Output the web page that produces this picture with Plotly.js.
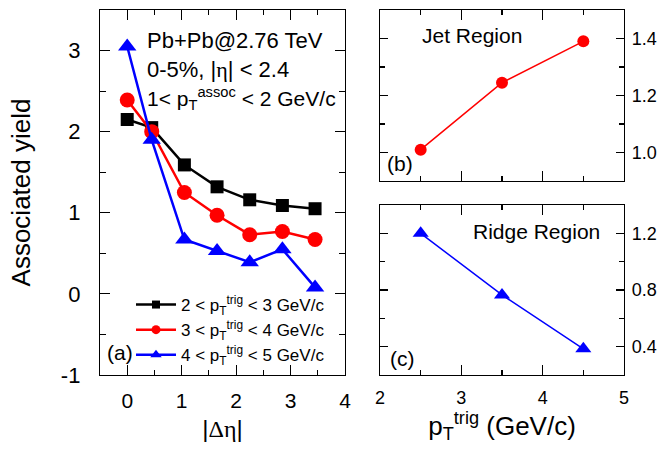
<!DOCTYPE html>
<html>
<head>
<meta charset="utf-8">
<script src="https://cdn.plot.ly/plotly-3.0.1.min.js"></script>
<style>html,body{margin:0;padding:0;background:#fff;}#chart{width:660px;height:451px;}</style>
</head>
<body>
<div id="chart"></div>
<script>
// ---- data ----
const dEta = [0, 0.45, 1.05, 1.65, 2.25, 2.85, 3.45];
const yield2to3 = [2.15, 2.05, 1.59, 1.32, 1.16, 1.09, 1.05];
const yield3to4 = [2.39, 2.00, 1.25, 0.97, 0.73, 0.77, 0.67];
const yield4to5 = [3.05, 1.90, 0.67, 0.53, 0.39, 0.55, 0.08];
const seriesNames = [
  "2 < p<sub>T</sub><sup>trig</sup> < 3 GeV/c",
  "3 < p<sub>T</sub><sup>trig</sup> < 4 GeV/c",
  "4 < p<sub>T</sub><sup>trig</sup> < 5 GeV/c"
];
const yTickVals = [-1, 0, 1, 2, 3];
const yTickText = ['-1', '0', '1', '2', '3'];
const ptTrig = [2.5, 3.5, 4.5];
const jetYield = [1.01, 1.245, 1.39];
const ridgeYield = [1.20, 0.765, 0.385];

// ---- helpers: pixel -> paper (plot area 100..624 x, 10..375 y) ----
const L = 100, R = 624, T = 10, B = 375;
const px = x => (x - L) / (R - L);
const py = y => (B - y) / (B - T);

const FONT = "Liberation Sans, Arial, sans-serif";

const colors = ['#000000', '#ff0000', '#0000ff'];
const symbols = ['square', 'circle', 'triangle-up'];
const sizes = [13, 15, 16];
const legendSizes = [8, 9, 10];
const yields = [yield2to3, yield3to4, yield4to5];

const traces = [];
for (let i = 0; i < 3; i++) {
  traces.push({x: dEta, y: yields[i], name: seriesNames[i], type: 'scatter', mode: 'lines+markers',
    showlegend: false, line: {color: colors[i], width: 2.5},
    marker: {symbol: symbols[i], size: sizes[i], color: colors[i]}, xaxis: 'x', yaxis: 'y'});
}
// legend-only proxies (small legend markers as in the reference)
for (let i = 0; i < 3; i++) {
  traces.push({x: [null], y: [null], name: seriesNames[i], type: 'scatter', mode: 'lines+markers',
    showlegend: true, line: {color: colors[i], width: 2.5},
    marker: {symbol: symbols[i], size: legendSizes[i], color: colors[i]}, xaxis: 'x', yaxis: 'y'});
}
traces.push({x: ptTrig, y: jetYield, name: 'Jet Region', type: 'scatter', mode: 'lines+markers', showlegend: false,
   line: {color: '#ff0000', width: 1.5}, marker: {symbol: 'circle', size: 12, color: '#ff0000'}, xaxis: 'x2', yaxis: 'y2'});
traces.push({x: ptTrig, y: ridgeYield, name: 'Ridge Region', type: 'scatter', mode: 'lines+markers', showlegend: false,
   line: {color: '#0000ff', width: 1.5}, marker: {symbol: 'triangle-up', size: 14, color: '#0000ff'}, xaxis: 'x3', yaxis: 'y3'});

const axBase = {
  showgrid: false, zeroline: false, showline: true, linecolor: '#000', linewidth: 1.2,
  mirror: 'ticks', ticks: 'inside', ticklen: 10, tickwidth: 1.2, tickcolor: '#000',
  fixedrange: true
};

const layout = {
  width: 660, height: 451,
  margin: {l: L, r: 660 - R, t: T, b: 451 - B},
  paper_bgcolor: '#fff', plot_bgcolor: '#fff',
  font: {family: FONT, color: '#000', size: 20},
  showlegend: true,
  legend: {x: px(131), y: py(287), xanchor: 'left', yanchor: 'top',
    bgcolor: 'rgba(0,0,0,0)', borderwidth: 0, font: {size: 17, family: FONT},
    tracegroupgap: 0, itemwidth: 40},
  xaxis: Object.assign({}, axBase, {
    domain: [0, px(345)], anchor: 'y', range: [-0.5, 4], tickmode: 'linear', tick0: 0, dtick: 1,
    minor: {dtick: 0.5, ticks: 'inside', ticklen: 5, tickcolor: '#000'},
    tickfont: {size: 21}, ticklabelstandoff: 7,
    title: {text: '|<span style="font-family:Liberation Serif">Δη</span>|', font: {size: 24}, standoff: 8}
  }),
  yaxis: Object.assign({}, axBase, {
    domain: [0, 1], anchor: 'x', range: [-1, 3.5], tickmode: 'array', tickvals: yTickVals, ticktext: yTickText,
    minor: {dtick: 0.5, ticks: 'inside', ticklen: 6, tickcolor: '#000'},
    tickfont: {size: 22}, ticklabelstandoff: 14,
    title: {text: 'Associated yield', font: {size: 26}, standoff: 22}
  }),
  xaxis2: Object.assign({}, axBase, {
    domain: [px(380), 1], anchor: 'y2', range: [2, 5], tickmode: 'linear', tick0: 2, dtick: 1,
    minor: {dtick: 0.5, ticks: 'inside', ticklen: 5, tickcolor: '#000'},
    showticklabels: false
  }),
  yaxis2: Object.assign({}, axBase, {
    domain: [py(181), 1], anchor: 'x2', side: 'right', range: [0.9, 1.5], tickmode: 'linear',
    tick0: 1.0, dtick: 0.2, tickformat: '.1f', ticklen: 8,
    minor: {dtick: 0.1, ticks: 'inside', ticklen: 5, tickcolor: '#000'},
    tickfont: {size: 18}, ticklabelstandoff: 3
  }),
  xaxis3: Object.assign({}, axBase, {
    domain: [px(380), 1], anchor: 'y3', range: [2, 5], tickmode: 'linear', tick0: 2, dtick: 1,
    minor: {dtick: 0.5, ticks: 'inside', ticklen: 5, tickcolor: '#000'},
    tickfont: {size: 18}, ticklabelstandoff: 6,
    title: {text: 'p<sub>T</sub><sup>trig</sup> (GeV/c)', font: {size: 26}, standoff: 2}
  }),
  yaxis3: Object.assign({}, axBase, {
    domain: [0, py(205)], anchor: 'x3', side: 'right', range: [0.2, 1.4], tickmode: 'linear',
    tick0: 0.4, dtick: 0.4, tickformat: '.1f', ticklen: 8,
    minor: {dtick: 0.2, ticks: 'inside', ticklen: 5, tickcolor: '#000'},
    tickfont: {size: 18}, ticklabelstandoff: 3
  }),
  annotations: [
    {text: 'Pb+Pb@2.76 TeV', x: px(145), y: py(40), font: {size: 22}},
    {text: '0-5%, |<span style="font-family:Liberation Serif">η</span>| < 2.4', x: px(145), y: py(69), font: {size: 22}},
    {text: '1< p<sub>T</sub><sup>assoc</sup> < 2 GeV/c', x: px(145), y: py(98), font: {size: 21}},
    {text: '(a)', x: px(105), y: py(352)},
    {text: 'Jet Region', x: px(420), y: py(35)},
    {text: 'Ridge Region', x: px(471), y: py(232)},
    {text: '(b)', x: px(385), y: py(163)},
    {text: '(c)', x: px(388), y: py(358)}
  ].map(a => Object.assign({xref: 'paper', yref: 'paper', xanchor: 'left', yanchor: 'middle',
    showarrow: false}, a, {font: Object.assign({size: 21, family: FONT, color: '#000'}, a.font || {})}))
};

Plotly.newPlot('chart', traces, layout, {displayModeBar: false, staticPlot: true});
</script>
</body>
</html>
